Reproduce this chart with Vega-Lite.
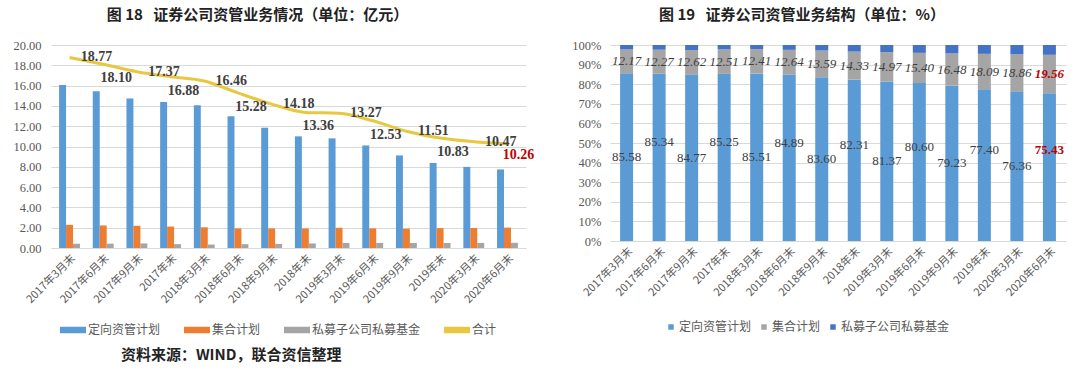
{
  "$schema": "https://vega.github.io/schema/vega-lite/v6.json",
  "background": "white",
  "padding": {"left": 12, "top": 8, "right": 5, "bottom": 4},
  "datasets": {
    "amt": [
      {"期": "2017年3月末", "定向资管计划": 16.06, "集合计划": 2.28, "私募子公司私募基金": 0.42, "合计": 18.77},
      {"期": "2017年6月末", "定向资管计划": 15.45, "集合计划": 2.22, "私募子公司私募基金": 0.43, "合计": 18.10},
      {"期": "2017年9月末", "定向资管计划": 14.72, "集合计划": 2.19, "私募子公司私募基金": 0.45, "合计": 17.37},
      {"期": "2017年末", "定向资管计划": 14.39, "集合计划": 2.11, "私募子公司私募基金": 0.38, "合计": 16.88},
      {"期": "2018年3月末", "定向资管计划": 14.07, "集合计划": 2.04, "私募子公司私募基金": 0.34, "合计": 16.46},
      {"期": "2018年6月末", "定向资管计划": 12.97, "集合计划": 1.93, "私募子公司私募基金": 0.38, "合计": 15.28},
      {"期": "2018年9月末", "定向资管计划": 11.85, "集合计划": 1.93, "私募子公司私募基金": 0.40, "合计": 14.18},
      {"期": "2018年末", "定向资管计划": 11.00, "集合计划": 1.91, "私募子公司私募基金": 0.45, "合计": 13.36},
      {"期": "2019年3月末", "定向资管计划": 10.80, "集合计划": 1.99, "私募子公司私募基金": 0.49, "合计": 13.27},
      {"期": "2019年6月末", "定向资管计划": 10.10, "集合计划": 1.93, "私募子公司私募基金": 0.50, "合计": 12.53},
      {"期": "2019年9月末", "定向资管计划": 9.12, "集合计划": 1.90, "私募子公司私募基金": 0.49, "合计": 11.51},
      {"期": "2019年末", "定向资管计划": 8.38, "集合计划": 1.96, "私募子公司私募基金": 0.49, "合计": 10.83},
      {"期": "2020年3月末", "定向资管计划": 7.99, "集合计划": 1.97, "私募子公司私募基金": 0.50, "合计": 10.47},
      {"期": "2020年6月末", "定向资管计划": 7.74, "集合计划": 2.01, "私募子公司私募基金": 0.51, "合计": 10.26}
    ],
    "pct": [
      {"期": "2017年3月末", "定向资管计划": 85.58, "集合计划": 12.17, "私募子公司私募基金": 2.25},
      {"期": "2017年6月末", "定向资管计划": 85.34, "集合计划": 12.27, "私募子公司私募基金": 2.39},
      {"期": "2017年9月末", "定向资管计划": 84.77, "集合计划": 12.62, "私募子公司私募基金": 2.61},
      {"期": "2017年末", "定向资管计划": 85.25, "集合计划": 12.51, "私募子公司私募基金": 2.24},
      {"期": "2018年3月末", "定向资管计划": 85.51, "集合计划": 12.41, "私募子公司私募基金": 2.08},
      {"期": "2018年6月末", "定向资管计划": 84.89, "集合计划": 12.64, "私募子公司私募基金": 2.47},
      {"期": "2018年9月末", "定向资管计划": 83.60, "集合计划": 13.59, "私募子公司私募基金": 2.81},
      {"期": "2018年末", "定向资管计划": 82.31, "集合计划": 14.33, "私募子公司私募基金": 3.36},
      {"期": "2019年3月末", "定向资管计划": 81.37, "集合计划": 14.97, "私募子公司私募基金": 3.66},
      {"期": "2019年6月末", "定向资管计划": 80.60, "集合计划": 15.40, "私募子公司私募基金": 4.00},
      {"期": "2019年9月末", "定向资管计划": 79.23, "集合计划": 16.48, "私募子公司私募基金": 4.29},
      {"期": "2019年末", "定向资管计划": 77.40, "集合计划": 18.09, "私募子公司私募基金": 4.51},
      {"期": "2020年3月末", "定向资管计划": 76.36, "集合计划": 18.86, "私募子公司私募基金": 4.78},
      {"期": "2020年6月末", "定向资管计划": 75.43, "集合计划": 19.56, "私募子公司私募基金": 5.01}
    ]
  },
  "config": {
    "view": {"stroke": null},
    "axis": {"labelColor": "#595959", "domain": false, "ticks": false, "gridColor": "#D9D9D9", "title": null, "labelOverlap": false},
    "axisQuantitative": {"tickCount": 10},
    "legend": {"labelColor": "#595959", "labelFontSize": 12, "labelFont": "Noto Sans CJK SC", "title": null}
  },
  "resolve": {"scale": {"color": "independent"}, "legend": {"color": "independent"}},
  "title": {"text": "资料来源：WIND，联合资信整理", "orient": "bottom", "anchor": "start", "dx": 108, "offset": 12, "fontSize": 15, "fontWeight": "bold", "font": "Noto Sans CJK SC", "color": "#222222"},
  "spacing": 36,
  "hconcat": [
    {
      "width": 475,
      "height": 203,
      "title": {"text": "图 18\u00a0\u00a0\u00a0证券公司资管业务情况（单位：亿元）", "anchor": "middle", "dx": -31, "offset": 16, "fontSize": 15, "fontWeight": "bold", "font": "Noto Sans CJK SC", "color": "#222222"},
      "data": {"name": "amt"},
      "layer": [
        {
          "transform": [{"fold": ["定向资管计划", "集合计划", "私募子公司私募基金"], "as": ["系列", "值"]}],
          "mark": {"type": "bar"},
          "encoding": {
            "x": {"field": "期", "type": "nominal", "sort": null, "scale": {"paddingInner": 0.38, "paddingOuter": 0.24},
              "axis": {"labelAngle": -45, "labelFontSize": 11, "labelFont": "Noto Sans CJK SC", "domain": true, "domainColor": "#D9D9D9", "labelPadding": 4}},
            "xOffset": {"field": "系列", "type": "nominal", "sort": ["定向资管计划", "集合计划", "私募子公司私募基金"], "scale": {"paddingInner": 0, "paddingOuter": 0}},
            "y": {"field": "值", "type": "quantitative", "scale": {"domain": [0, 20]},
              "axis": {"format": ".2f", "labelFont": "Liberation Serif", "labelFontSize": 12.5, "labelPadding": 10, "grid": true}},
            "color": {"field": "系列", "type": "nominal",
              "scale": {"domain": ["定向资管计划", "集合计划", "私募子公司私募基金", "合计"], "range": ["#5B9BD5", "#ED7D31", "#A5A5A5", "#E8C840"]},
              "legend": {"orient": "none", "legendX": 9, "legendY": 272, "direction": "horizontal", "symbolType": "M-1,-0.2H1V0.2H-1Z", "symbolSize": 600, "symbolStrokeWidth": 1.5, "columnPadding": 20, "labelOffset": 2}}
          }
        },
        {
          "mark": {"type": "line", "interpolate": "monotone", "strokeWidth": 3},
          "encoding": {
            "x": {"field": "期", "type": "nominal", "sort": null},
            "y": {"field": "合计", "type": "quantitative"},
            "color": {"datum": "合计"}
          }
        },
        {
          "transform": [{"filter": {"field": "期", "oneOf": ["2017年3月末", "2017年9月末", "2018年3月末", "2018年9月末", "2019年3月末", "2019年9月末", "2020年3月末"]}}],
          "mark": {"type": "text", "dx": 27, "font": "Liberation Serif", "fontWeight": "bold", "fontSize": 14, "color": "#404040"},
          "encoding": {
            "x": {"field": "期", "type": "nominal", "sort": null},
            "y": {"field": "合计", "type": "quantitative"},
            "text": {"field": "合计", "type": "quantitative", "format": ".2f"}
          }
        },
        {
          "transform": [{"filter": {"field": "期", "oneOf": ["2017年6月末", "2017年末", "2018年6月末", "2018年末", "2019年6月末", "2019年末"]}}],
          "mark": {"type": "text", "dx": 13, "dy": 14, "font": "Liberation Serif", "fontWeight": "bold", "fontSize": 14, "color": "#404040"},
          "encoding": {
            "x": {"field": "期", "type": "nominal", "sort": null},
            "y": {"field": "合计", "type": "quantitative"},
            "text": {"field": "合计", "type": "quantitative", "format": ".2f"}
          }
        },
        {
          "transform": [{"filter": {"field": "期", "equal": "2020年6月末"}}],
          "mark": {"type": "text", "dx": 11, "dy": 11, "font": "Liberation Serif", "fontWeight": "bold", "fontSize": 14, "color": "#C00000"},
          "encoding": {
            "x": {"field": "期", "type": "nominal", "sort": null},
            "y": {"field": "合计", "type": "quantitative"},
            "text": {"field": "合计", "type": "quantitative", "format": ".2f"}
          }
        }
      ]
    },
    {
      "width": 456,
      "height": 196,
      "title": {"text": "图 19\u00a0\u00a0\u00a0证券公司资管业务结构（单位：%）", "anchor": "middle", "dx": -36, "offset": 16, "fontSize": 15, "fontWeight": "bold", "font": "Noto Sans CJK SC", "color": "#222222"},
      "data": {"name": "pct"},
      "layer": [
        {
          "transform": [
            {"fold": ["定向资管计划", "集合计划", "私募子公司私募基金"], "as": ["系列", "占比"]},
            {"calculate": "indexof(['定向资管计划', '集合计划', '私募子公司私募基金'], datum['系列'])", "as": "序"}
          ],
          "mark": {"type": "bar"},
          "encoding": {
            "x": {"field": "期", "type": "nominal", "sort": null, "scale": {"paddingInner": 0.6, "paddingOuter": 0.31},
              "axis": {"labelAngle": -45, "labelFontSize": 11, "labelFont": "Noto Sans CJK SC", "labelPadding": 4}},
            "y": {"field": "占比", "type": "quantitative", "stack": "zero", "scale": {"domain": [0, 100]},
              "axis": {"labelExpr": "datum.value + '%'", "labelFont": "Liberation Serif", "labelFontSize": 12.5, "labelPadding": 9, "grid": true}},
            "color": {"field": "系列", "type": "nominal",
              "scale": {"domain": ["定向资管计划", "集合计划", "私募子公司私募基金"], "range": ["#5B9BD5", "#A5A5A5", "#4472C4"]},
              "legend": {"orient": "none", "legendX": 55, "legendY": 276, "direction": "horizontal", "symbolType": "square", "symbolSize": 30, "columnPadding": 6, "labelOffset": 2}},
            "order": {"field": "序", "type": "quantitative", "sort": "ascending"}
          }
        },
        {
          "transform": [
            {"filter": {"field": "期", "oneOf": ["2017年3月末", "2017年9月末", "2018年3月末", "2018年9月末", "2019年3月末", "2019年9月末", "2020年3月末"]}},
            {"calculate": "datum['定向资管计划'] / 2", "as": "标签位"}
          ],
          "mark": {"type": "text", "font": "Liberation Serif", "fontSize": 13, "color": "#404040"},
          "encoding": {
            "x": {"field": "期", "type": "nominal", "sort": null},
            "y": {"field": "标签位", "type": "quantitative"},
            "text": {"field": "定向资管计划", "type": "quantitative", "format": ".2f"}
          }
        },
        {
          "transform": [
            {"filter": {"field": "期", "oneOf": ["2017年6月末", "2017年末", "2018年6月末", "2018年末", "2019年6月末", "2019年末"]}},
            {"calculate": "datum['定向资管计划'] / 2", "as": "标签位"}
          ],
          "mark": {"type": "text", "dy": -15, "font": "Liberation Serif", "fontSize": 13, "color": "#404040"},
          "encoding": {
            "x": {"field": "期", "type": "nominal", "sort": null},
            "y": {"field": "标签位", "type": "quantitative"},
            "text": {"field": "定向资管计划", "type": "quantitative", "format": ".2f"}
          }
        },
        {
          "transform": [
            {"filter": {"field": "期", "equal": "2020年6月末"}},
            {"calculate": "datum['定向资管计划'] / 2", "as": "标签位"}
          ],
          "mark": {"type": "text", "dy": -17, "font": "Liberation Serif", "fontSize": 13, "fontWeight": "bold", "color": "#C00000"},
          "encoding": {
            "x": {"field": "期", "type": "nominal", "sort": null},
            "y": {"field": "标签位", "type": "quantitative"},
            "text": {"field": "定向资管计划", "type": "quantitative", "format": ".2f"}
          }
        },
        {
          "transform": [
            {"filter": {"not": {"field": "期", "equal": "2020年6月末"}}},
            {"calculate": "datum['定向资管计划'] + datum['集合计划'] / 2", "as": "标签位"}
          ],
          "mark": {"type": "text", "font": "Liberation Serif", "fontSize": 13, "fontStyle": "italic", "color": "#404040"},
          "encoding": {
            "x": {"field": "期", "type": "nominal", "sort": null},
            "y": {"field": "标签位", "type": "quantitative"},
            "text": {"field": "集合计划", "type": "quantitative", "format": ".2f"}
          }
        },
        {
          "transform": [
            {"filter": {"field": "期", "equal": "2020年6月末"}},
            {"calculate": "datum['定向资管计划'] + datum['集合计划'] / 2", "as": "标签位"}
          ],
          "mark": {"type": "text", "font": "Liberation Serif", "fontSize": 13, "fontStyle": "italic", "fontWeight": "bold", "color": "#C00000"},
          "encoding": {
            "x": {"field": "期", "type": "nominal", "sort": null},
            "y": {"field": "标签位", "type": "quantitative"},
            "text": {"field": "集合计划", "type": "quantitative", "format": ".2f"}
          }
        }
      ]
    }
  ]
}
